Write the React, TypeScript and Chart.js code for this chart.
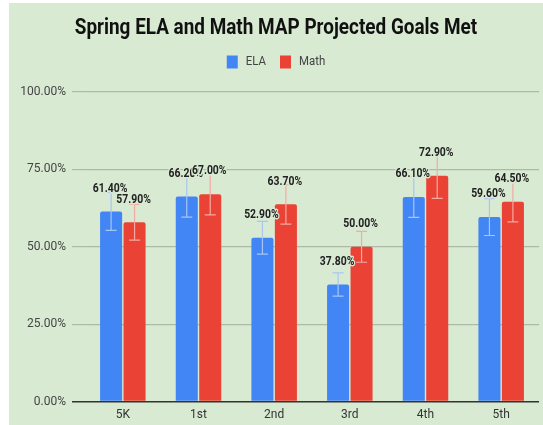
import React, { useEffect, useRef } from "react";
import { Chart, registerables } from "chart.js";

Chart.register(...registerables);

const categories = ["5K", "1st", "2nd", "3rd", "4th", "5th"];
const seriesNames = ["ELA", "Math"];
const elaValues = [61.4, 66.2, 52.9, 37.8, 66.1, 59.6];
const mathValues = [57.9, 67.0, 63.7, 50.0, 72.9, 64.5];
const errorPercent = 10; // percentage error bars
const yTicks = [0, 25, 50, 75, 100];
const titleText = "Spring ELA and Math MAP Projected Goals Met";

const BG = "#d9ead3";
const COLORS = ["#4285f4", "#ea4335"];
const WHISKERS = ["#a8c5f4", "#f3aaa2"];
const FONT = "Roboto, 'Liberation Sans', sans-serif";

function condensedText(ctx: any, text: string, x: number, y: number, sx: number, halo: boolean) {
  ctx.save();
  ctx.translate(x, y);
  ctx.scale(sx, 1);
  if (halo) {
    ctx.lineJoin = "round";
    ctx.strokeStyle = BG;
    ctx.lineWidth = 3;
    ctx.strokeText(text, 0, 0);
  }
  ctx.fillText(text, 0, 0);
  ctx.restore();
}

const overlayPlugin = {
  id: "overlay",
  afterDraw(chart: any) {
    const ctx = chart.ctx;
    const cx = chart.width / 2;
    // title
    ctx.save();
    ctx.font = `bold 22px ${FONT}`;
    ctx.fillStyle = "#111111";
    ctx.textAlign = "center";
    ctx.textBaseline = "middle";
    condensedText(ctx, titleText, cx, 25, 0.86, false);
    ctx.restore();
    // legend
    ctx.save();
    const sx = 0.88;
    ctx.font = `13px ${FONT}`;
    ctx.textBaseline = "middle";
    ctx.textAlign = "left";
    const widths = seriesNames.map((n) => ctx.measureText(n).width * sx);
    const box = 11;
    const gapBox = 8;
    const gapItem = 14;
    let total = 0;
    widths.forEach((w, i) => {
      total += box + gapBox + w + (i < widths.length - 1 ? gapItem : 0);
    });
    let x = cx - total / 2;
    const ly = 59;
    seriesNames.forEach((n, i) => {
      ctx.fillStyle = COLORS[i];
      ctx.fillRect(x, ly - 6.5, box, 13);
      x += box + gapBox;
      ctx.fillStyle = "#444444";
      condensedText(ctx, n, x, ly, sx, false);
      x += widths[i] + gapItem;
    });
    ctx.restore();
  },
  afterDatasetsDraw(chart: any) {
    const ctx = chart.ctx;
    const y = chart.scales.y;
    chart.data.datasets.forEach((ds: any, di: number) => {
      const meta = chart.getDatasetMeta(di);
      meta.data.forEach((bar: any, i: number) => {
        const v = ds.data[i];
        const e = (v * errorPercent) / 100;
        const yt = y.getPixelForValue(v + e);
        const yb = y.getPixelForValue(v - e);
        ctx.save();
        ctx.strokeStyle = WHISKERS[di];
        ctx.lineWidth = 1.2;
        ctx.beginPath();
        ctx.moveTo(bar.x, yt);
        ctx.lineTo(bar.x, yb);
        ctx.moveTo(bar.x - 5.5, yt);
        ctx.lineTo(bar.x + 5.5, yt);
        ctx.moveTo(bar.x - 5.5, yb);
        ctx.lineTo(bar.x + 5.5, yb);
        ctx.stroke();
        ctx.restore();
      });
    });
    chart.data.datasets.forEach((ds: any, di: number) => {
      const meta = chart.getDatasetMeta(di);
      meta.data.forEach((bar: any, i: number) => {
        const v = ds.data[i];
        const text = v.toFixed(2) + "%";
        ctx.save();
        ctx.font = `bold 13px ${FONT}`;
        ctx.textAlign = "center";
        ctx.textBaseline = "middle";
        ctx.fillStyle = "#222222";
        condensedText(ctx, text, bar.x - 1, bar.y - 23, 0.8, true);
        ctx.restore();
      });
    });
  },
};

export default function App() {
  const ref = useRef<HTMLCanvasElement>(null);
  useEffect(() => {
    if (!ref.current) return;
    const chart = new Chart(ref.current, {
      type: "bar",
      data: {
        labels: categories,
        datasets: [
          {
            label: seriesNames[0],
            data: elaValues,
            backgroundColor: COLORS[0],
            borderRadius: { topLeft: 2, topRight: 2 },
            borderSkipped: "bottom",
            categoryPercentage: 0.62,
            barPercentage: 0.94,
          },
          {
            label: seriesNames[1],
            data: mathValues,
            backgroundColor: COLORS[1],
            borderRadius: { topLeft: 2, topRight: 2 },
            borderSkipped: "bottom",
            categoryPercentage: 0.62,
            barPercentage: 0.94,
          },
        ],
      },
      options: {
        animation: false,
        responsive: false,
        devicePixelRatio: 1,
        layout: { padding: { left: 0, right: 4, top: 89, bottom: 3 } },
        plugins: {
          title: { display: false },
          legend: { display: false },
          tooltip: { enabled: false },
        },
        scales: {
          x: {
            afterFit(scale: any) {
              scale.height = 20.5;
            },
            grid: { display: false, drawTicks: false, tickLength: 0 },
            border: { display: false },
            ticks: {
              font: { family: FONT, size: 12 },
              color: "#333333",
              padding: 6,
            },
          },
          y: {
            min: 0,
            max: 100,
            afterFit(scale: any) {
              scale.width = 76;
            },
            afterBuildTicks(scale: any) {
              scale.ticks = yTicks.map((v) => ({ value: v }));
            },
            border: { display: false },
            grid: {
              color: (c: any) => (c.tick && c.tick.value === 0 ? "#333333" : "#aeb9a8"),
              lineWidth: (c: any) => (c.tick && c.tick.value === 0 ? 1.5 : 1.2),
              tickLength: 13,
            },
            ticks: {
              font: { family: FONT, size: 12 },
              color: "#444444",
              padding: 6,
              callback: (v: any) => Number(v).toFixed(2) + "%",
            },
          },
        },
      },
      plugins: [overlayPlugin],
    });
    return () => chart.destroy();
  }, []);
  return (
    <div
      style={{
        position: "fixed",
        left: 9,
        top: 3,
        width: 534,
        height: 422,
        background: BG,
      }}
    >
      <canvas ref={ref} width={534} height={422} style={{ display: "block" }} />
    </div>
  );
}
